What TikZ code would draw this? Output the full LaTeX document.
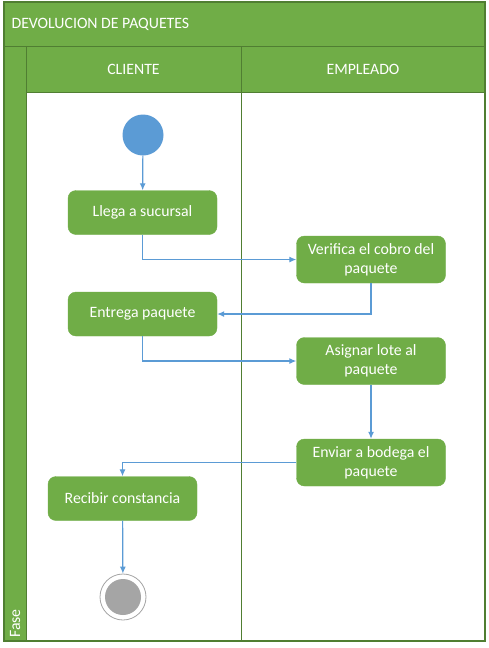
\documentclass[tikz,border=0pt]{standalone}
\usepackage{fontspec}
\setmainfont{Carlito}
\usepackage{xcolor}
\usetikzlibrary{shapes,arrows.meta,positioning,calc}

\definecolor{offgreen}{HTML}{70AD47}
\definecolor{darkgreen}{HTML}{507E32}
\definecolor{offblue}{HTML}{5B9BD5}
\definecolor{endgray}{HTML}{A5A5A5}

\tikzset{
  activity/.style={rectangle, rounded corners=8pt, fill=offgreen, draw=offgreen,
    text=white, minimum width=149pt, minimum height=44pt, align=center,
    inner sep=2pt, font=\fontsize{15.8}{19}\selectfont},
  flow/.style={->, >={Latex[length=7pt,width=6pt]}, draw=offblue, line width=1.2pt},
  band/.style={fill=offgreen, draw=darkgreen, line width=1pt},
  lane/.style={fill=white, draw=darkgreen, line width=1pt},
  bandtext/.style={text=white, font=\fontsize{15.8}{19}\selectfont}
}

\begin{document}
\begin{tikzpicture}[x=1pt, y=-1pt]
  \useasboundingbox (0,0) rectangle (489,648);

  % Pool and lanes
  \draw[band] (4,2) rectangle (485,46);
  \draw[band] (4,46) rectangle (26,641);
  \draw[band] (26,46) rectangle (241,92);
  \draw[band] (241,46) rectangle (485,92);
  \draw[lane] (26,92) rectangle (241,641);
  \draw[lane] (241,92) rectangle (485,641);
  \draw[darkgreen, line width=1.5pt] (4,2) rectangle (485,641);

  % Headers
  \node[bandtext, anchor=west] (titulo) at (8,24) {DEVOLUCION DE PAQUETES};
  \node[bandtext] (cliente) at (133.5,69) {CLIENTE};
  \node[bandtext] (empleado) at (363,69) {EMPLEADO};
  \node[bandtext, rotate=90, anchor=west, inner sep=1pt] (fase) at (15,639) {Fase};

  % Start and end
  \node[circle, fill=offblue, minimum size=41pt, inner sep=0pt] (inicio) at (143,135) {};
  \node[circle, draw=endgray, fill=white, line width=0.8pt, minimum size=46pt, inner sep=0pt] (fin) at (123,597) {};
  \node[circle, fill=endgray, minimum size=36pt, inner sep=0pt] (finin) at (fin) {};

  % Activities
  \node[activity] (llega) at (142.5,212.5) {Llega a sucursal};
  \node[activity, minimum height=47pt] (verifica) at (371,259.5) {Verifica el cobro del\\paquete};
  \node[activity] (entrega) at (142.5,314) {Entrega paquete};
  \node[activity, minimum height=47pt] (asignar) at (371,361) {Asignar lote al\\paquete};
  \node[activity, minimum height=47pt] (enviar) at (371,462.5) {Enviar a bodega el\\paquete};
  \node[activity] (recibir) at (122.5,498.5) {Recibir constancia};

  % Flows
  \draw[flow] (inicio) -- (llega);
  \draw[flow] (llega.south) |- (verifica.west);
  \draw[flow] (verifica.south) |- (entrega.east);
  \draw[flow] (entrega.south) |- (asignar.west);
  \draw[flow] (asignar) -- (enviar);
  \draw[flow] (enviar.west) -| (recibir.north);
  \draw[flow] (recibir) -- (fin);
\end{tikzpicture}
\end{document}
